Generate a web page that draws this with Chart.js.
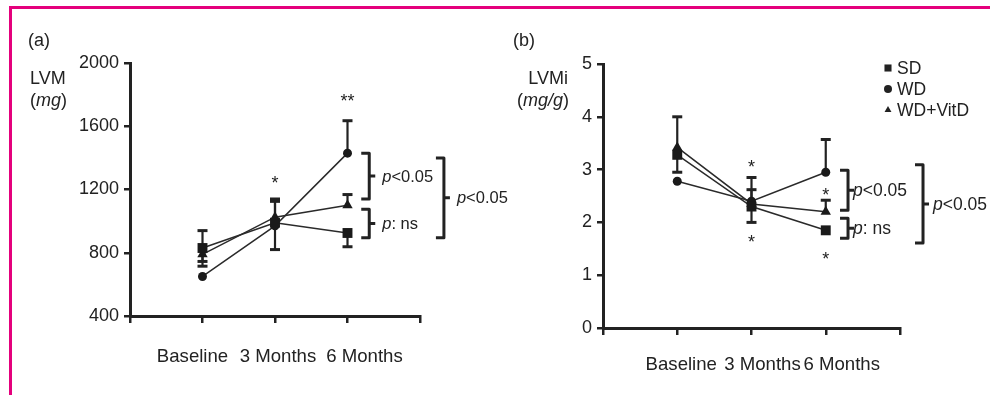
<!DOCTYPE html>
<html>
<head>
<meta charset="utf-8">
<script src="https://cdn.jsdelivr.net/npm/chart.js@4.4.0/dist/chart.umd.min.js"></script>
<style>
    html, body { margin: 0; padding: 0; background: #fff; }
    #page { position: relative; width: 990px; height: 395px; overflow: hidden; }
    #frame { position: absolute; left: 9px; top: 6px; right: 0; bottom: 0;
             border-left: 3px solid #e4007c; border-top: 3px solid #e4007c; }
    .panel { position: absolute; top: 0; height: 395px; }
    #pa { left: 0; width: 515px; }
    #pb { left: 495px; width: 495px; }
</style>
</head>
<body>
<div id="page">
    <div id="frame"></div>
    <div class="panel" id="pa"><canvas id="chartA"></canvas></div>
    <div class="panel" id="pb"><canvas id="chartB"></canvas></div>
</div>
<script>
// ==================== ДАННЫЕ ====================

const categories = ['Baseline', '3 Months', '6 Months'];
const seriesNames = ['SD', 'WD', 'WD+VitD'];
const pointStyles = ['rect', 'circle', 'triangle'];

// (a) LVM, mg
const lvmSD = [830, 990, 925];
const lvmWD = [650, 970, 1430];
const lvmVitD = [790, 1025, 1100];
const lvmUpSD = [940, 1140, null];
const lvmDownSD = [715, 820, 838];
const lvmUpWD = [null, null, 1635];
const lvmDownWD = [null, null, null];
const lvmUpVitD = [null, 1125, 1168];
const lvmDownVitD = [745, null, null];
const lvmTicks = [400, 2000, 400];          // min, max, step
const lvmStars = [[2, 1275, '*'], [3, 1790, '**']];
const lvmBracketX = [3.3, 3.3, 4.33];
const lvmBracketTop = [1430, 1075, 1400];
const lvmBracketBottom = [1140, 895, 895];
const lvmBracketText = ['<0.05', ': ns', '<0.05'];

// (b) LVMi, mg/g
const lvmiSD = [3.28, 2.3, 1.85];
const lvmiWD = [2.78, 2.4, 2.95];
const lvmiVitD = [3.42, 2.35, 2.2];
const lvmiUpSD = [null, 2.62, null];
const lvmiDownSD = [2.95, 2.0, null];
const lvmiUpWD = [null, null, 3.57];
const lvmiDownWD = [null, null, null];
const lvmiUpVitD = [4.0, 2.85, 2.42];
const lvmiDownVitD = [null, null, null];
const lvmiTicks = [0, 5, 1];
const lvmiStars = [[2, 3.14, '*'], [2, 1.72, '*'], [3, 2.62, '*'], [3, 1.4, '*']];
const lvmiBracketX = [3.3, 3.3, 4.31];
const lvmiBracketTop = [2.99, 2.08, 3.09];
const lvmiBracketBottom = [2.23, 1.70, 1.61];
const lvmiBracketText = ['<0.05', ': ns', '<0.05'];

// ==================== ОФОРМЛЕНИЕ ====================

const FONT = '"Liberation Sans", Arial, Helvetica, sans-serif';
const INK = '#222';
Chart.defaults.font.family = FONT;
Chart.defaults.color = INK;

/**
 * Текст вида "p<0.05": курсивная p + остальное
 */
function pText(ctx, x, y, rest, size) {
    ctx.font = `italic ${size}px ${FONT}`;
    ctx.fillText('p', x, y);
    const w = ctx.measureText('p').width;
    ctx.font = `${size}px ${FONT}`;
    ctx.fillText(rest, x + w, y);
}

/**
 * Плагин: планки ошибок, звёздочки, скобки, подписи осей
 */
function makeAnnotations(opts) {
    return {
        id: 'annot',
        beforeDatasetsDraw(chart) {
            const { ctx, scales: { y } } = chart;
            ctx.save();
            ctx.strokeStyle = INK;
            chart.data.datasets.forEach((ds, i) => {
                const meta = chart.getDatasetMeta(i);
                meta.data.forEach((pt, j) => {
                    [ds.errUp[j], ds.errDown[j]].forEach(v => {
                        if (v == null) return;
                        const yp = y.getPixelForValue(v);
                        ctx.lineWidth = 2.2;
                        ctx.beginPath();
                        ctx.moveTo(pt.x, pt.y);
                        ctx.lineTo(pt.x, yp);
                        ctx.stroke();
                        ctx.lineWidth = 3;
                        ctx.beginPath();
                        ctx.moveTo(pt.x - 5, yp);
                        ctx.lineTo(pt.x + 5, yp);
                        ctx.stroke();
                    });
                });
            });
            ctx.restore();
        },
        afterDraw(chart) {
            const { ctx, scales: { x, y } } = chart;
            ctx.save();
            ctx.fillStyle = INK;
            ctx.strokeStyle = INK;

            // подписи категорий
            ctx.font = `18.6px ${FONT}`;
            ctx.textAlign = 'center';
            ctx.textBaseline = 'middle';
            categories.forEach((c, j) => {
                ctx.fillText(c, x.getPixelForValue(j + 1) + opts.labelShift[j],
                    chart.chartArea.bottom + opts.labelDy);
            });

            // звёздочки
            ctx.font = `18px ${FONT}`;
            ctx.textAlign = 'center';
            ctx.textBaseline = 'alphabetic';
            opts.stars.forEach(([cx, cy, t]) => {
                ctx.fillText(t, x.getPixelForValue(cx), y.getPixelForValue(cy) + 11);
            });

            // скобки
            ctx.lineWidth = 3;
            ctx.lineJoin = 'round';
            ctx.textAlign = 'left';
            ctx.textBaseline = 'middle';
            opts.bracketX.forEach((bx, k) => {
                const xp = x.getPixelForValue(bx);
                const y1 = y.getPixelForValue(opts.bracketTop[k]);
                const y2 = y.getPixelForValue(opts.bracketBottom[k]);
                const ym = (y1 + y2) / 2;
                ctx.beginPath();
                ctx.moveTo(xp - 8, y1);
                ctx.lineTo(xp, y1);
                ctx.lineTo(xp, y2);
                ctx.lineTo(xp - 8, y2);
                ctx.moveTo(xp, ym);
                ctx.lineTo(xp + 6, ym);
                ctx.stroke();
                pText(ctx, xp + opts.pGap[k], ym + 1, opts.bracketText[k], opts.pSize);
            });

            // метка панели и подпись оси
            ctx.textBaseline = 'alphabetic';
            ctx.font = `18px ${FONT}`;
            ctx.textAlign = 'left';
            ctx.fillText(opts.tag, opts.tagX, 46);
            ctx.textAlign = opts.titleAlign;
            ctx.fillText(opts.title, opts.titleX, 84);
            // (mg) с курсивом
            const parts = [['(', false], [opts.unit, true], [')', false]];
            let px = opts.unitX;
            ctx.textAlign = 'left';
            parts.forEach(([s, it]) => {
                ctx.font = `${it ? 'italic ' : ''}18px ${FONT}`;
                ctx.fillText(s, px, 106);
                px += ctx.measureText(s).width;
            });

            // легенда
            if (opts.legend) {
                ctx.font = `17.5px ${FONT}`;
                ctx.textBaseline = 'middle';
                chart.data.datasets.forEach((ds, i) => {
                    const ly = chart.chartArea.top + 4 + i * 21;
                    const lx = chart.chartArea.right - 12;
                    Chart.helpers.drawPoint(ctx, {
                        pointStyle: ds.pointStyle,
                        radius: ds.pointStyle === 'rect' ? 5 : 4,
                        rotation: 0,
                        borderWidth: 0
                    }, lx, ly);
                    ctx.fillText(ds.label, lx + 9, ly + 1);
                });
            }
            ctx.restore();
        }
    };
}

function makeDatasets(values, ups, downs) {
    return values.map((vals, i) => ({
        label: seriesNames[i],
        data: vals.map((v, j) => ({ x: j + 1, y: v })),
        errUp: ups[i],
        errDown: downs[i],
        borderColor: '#2a2a2a',
        borderWidth: 1.5,
        backgroundColor: '#1a1a1a',
        pointBackgroundColor: '#1a1a1a',
        pointBorderWidth: 0,
        pointStyle: pointStyles[i],
        pointRadius: pointStyles[i] === 'rect' ? 7 : (pointStyles[i] === 'circle' ? 4.5 : 6),
        tension: 0,
        fill: false
    }));
}

function makeChart(canvasId, datasets, ticks, padding, annot) {
    const ctx = document.getElementById(canvasId).getContext('2d');
    return new Chart(ctx, {
        type: 'line',
        data: { datasets },
        options: {
            responsive: true,
            maintainAspectRatio: false,
            animation: false,
            layout: { padding },
            plugins: { legend: { display: false }, tooltip: { enabled: false } },
            scales: {
                x: {
                    type: 'linear',
                    min: 0,
                    max: 4,
                    afterFit: s => { s.height = 45; },
                    ticks: {
                        stepSize: 1,
                        autoSkip: false,
                        maxRotation: 0,
                        callback: () => ''
                    },
                    grid: { drawOnChartArea: false, tickLength: 7, color: INK, lineWidth: 2.5 },
                    border: { color: INK, width: 3 }
                },
                y: {
                    min: ticks[0],
                    max: ticks[1],
                    afterFit: s => { s.width = 60; },
                    ticks: {
                        stepSize: ticks[2],
                        padding: 5,
                        color: INK,
                        font: { size: 18 },
                        callback: v => String(v)
                    },
                    grid: { drawOnChartArea: false, tickLength: 6, color: INK, lineWidth: 2.5 },
                    border: { color: INK, width: 3 }
                }
            }
        },
        plugins: [makeAnnotations(annot)]
    });
}

makeChart('chartA',
    makeDatasets([lvmSD, lvmWD, lvmVitD], [lvmUpSD, lvmUpWD, lvmUpVitD], [lvmDownSD, lvmDownWD, lvmDownVitD]),
    lvmTicks,
    { left: 70, right: 95, top: 63, bottom: 34 },
    {
        stars: lvmStars, bracketX: lvmBracketX, bracketTop: lvmBracketTop,
        bracketBottom: lvmBracketBottom, bracketText: lvmBracketText, pSize: 16.5,
        pGap: [13, 13, 13], labelShift: [-10, 3, 17], labelDy: 41,
        tag: '(a)', tagX: 28, title: 'LVM', titleX: 30, titleAlign: 'left',
        unit: 'mg', unitX: 30, legend: false
    });

makeChart('chartB',
    makeDatasets([lvmiSD, lvmiWD, lvmiVitD], [lvmiUpSD, lvmiUpWD, lvmiUpVitD], [lvmiDownSD, lvmiDownWD, lvmiDownVitD]),
    lvmiTicks,
    { left: 48, right: 90, top: 64, bottom: 22 },
    {
        stars: lvmiStars, bracketX: lvmiBracketX, bracketTop: lvmiBracketTop,
        bracketBottom: lvmiBracketBottom, bracketText: lvmiBracketText, pSize: 17.5,
        pGap: [5, 5, 10], labelShift: [4, 11, 16], labelDy: 37,
        tag: '(b)', tagX: 18, title: 'LVMi', titleX: 73, titleAlign: 'right',
        unit: 'mg/g', unitX: 22, legend: true
    });
</script>
</body>
</html>
